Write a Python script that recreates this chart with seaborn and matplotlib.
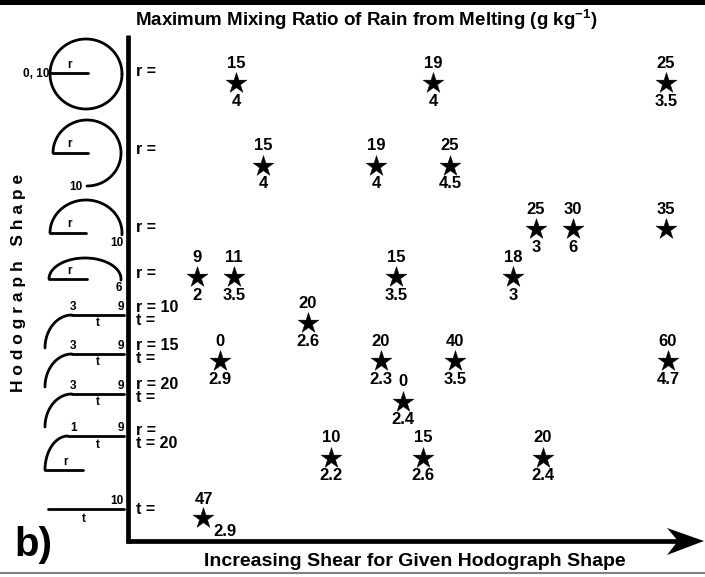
import numpy as np
import pandas as pd
import matplotlib
matplotlib.use("Agg")
import matplotlib.pyplot as plt
from matplotlib.patches import Polygon
import seaborn as sns

sns.set_theme(style="white")
plt.rcParams["font.family"] = ["Liberation Sans", "DejaVu Sans"]
plt.rcParams["mathtext.fontset"] = "custom"
plt.rcParams["mathtext.bf"] = "Liberation Sans:bold"
plt.rcParams["mathtext.rm"] = "Liberation Sans:bold"

# ---- data: one star per simulation ----
# shear position (increasing to the right) and row position of each hodograph family
star_x = [236, 433, 666, 263, 376, 450, 536, 573, 666, 197, 234, 396, 513,
          308, 220, 381, 455, 668, 403, 331, 423, 543, 203]
star_y = [83, 83, 83, 166, 166, 166, 229, 229, 229, 277, 277, 277, 277,
          323, 361, 361, 361, 361, 402, 458, 458, 458, 518]
# hodograph parameter (r or t) written above each star
param = ["15", "19", "25", "15", "19", "25", "25", "30", "35", "9", "11", "15", "18",
         "20", "0", "20", "40", "60", "0", "10", "15", "20", "47"]
# maximum mixing ratio of rain from melting (g/kg) written below each star
mixing = ["4", "4", "3.5", "4", "4", "4.5", "3", "6", "", "2", "3.5", "3.5", "3",
          "2.6", "2.9", "2.3", "3.5", "4.7", "2.4", "2.2", "2.6", "2.4", "2.9"]

# row captions at the axis
row_text = ["r =", "r =", "r =", "r =", "r = 10\nt =", "r = 15\nt =", "r = 20\nt =",
            "r =\nt = 20", "t ="]
row_text_y = [71, 150, 228, 273, 314, 352, 391, 437, 509]

df = pd.DataFrame({"shear": star_x, "row": star_y, "param": param, "mixing": mixing})

W, H = 705, 577
fig = plt.figure(figsize=(W / 100, H / 100), dpi=100)
ax = fig.add_axes([0, 0, 1, 1])
ax.set_xlim(0, W)
ax.set_ylim(H, 0)
ax.axis("off")

# frame lines
ax.add_patch(plt.Rectangle((0, 0), W, 5, color="black", lw=0))
ax.plot([0, W], [573, 573], color="#808080", lw=1.5, solid_capstyle="butt")

# axes with arrow
ax.plot([128, 128], [35, 543], color="black", lw=3.4, solid_capstyle="butt")
ax.plot([126, 688], [541, 541], color="black", lw=3.4, solid_capstyle="butt")
ax.add_patch(Polygon([[704, 541], [667, 528], [678, 541], [667, 555]],
                     closed=True, color="black", lw=0))

# stars
sns.scatterplot(data=df, x="shear", y="row", marker="*", s=250, color="black",
                edgecolor="black", linewidth=0.3, ax=ax, legend=False, zorder=3)

bold = dict(fontweight="bold", color="black")
fs_num = 12
for i, r in df.iterrows():
    if i == len(df) - 1:
        ax.text(r.shear + 1, r.row - 18, r.param, ha="center", va="center", fontsize=fs_num, **bold)
        ax.text(r.shear + 22, r.row + 13, r.mixing, ha="center", va="center", fontsize=fs_num, **bold)
        continue
    ax.text(r.shear, r.row - 20, r.param, ha="center", va="center", fontsize=fs_num, **bold)
    if r.mixing:
        ax.text(r.shear, r.row + 18, r.mixing, ha="center", va="center", fontsize=fs_num, **bold)

for t, y in zip(row_text, row_text_y):
    ax.text(136, y, t, ha="left", va="center", fontsize=11.5, linespacing=0.85, **bold)

# titles
ax.text(366, 20, r"Maximum Mixing Ratio of Rain from Melting (g kg$^{\mathbf{-1}}$)",
        ha="center", va="center", fontsize=13.5, **bold)
ax.text(415, 561, "Increasing Shear for Given Hodograph Shape",
        ha="center", va="center", fontsize=14, **bold)
ax.text(19, 283, "H o d o g r a p h   S h a p e", rotation=90,
        ha="center", va="center", fontsize=12.5, **bold)
ax.text(14, 545, "b)", ha="left", va="center", fontsize=29, **bold)

# ---- hodograph sketches ----
lw = 2.0
def arc(cx, cy, rx, ry, a0, a1, n=120):
    th = np.radians(np.linspace(a0, a1, n))
    ax.plot(cx + rx * np.cos(th), cy - ry * np.sin(th), color="black", lw=lw)

small = dict(fontsize=8.5, ha="center", va="center", **bold)

# full circle
arc(86, 74, 36, 35, 0, 360)
ax.plot([50, 88], [73, 73], color="black", lw=lw)
ax.text(70, 65, "r", **small)
ax.text(36, 74, "0, 10", **small)

# three-quarter circle
arc(87, 153, 34, 33, 180, -90)
ax.plot([53, 88], [153, 153], color="black", lw=lw)
ax.text(70, 144, "r", **small)
ax.text(76, 187, "10", **small)

# half circle
arc(86, 233, 36, 33, 180, -3)
ax.plot([50, 86], [233, 233], color="black", lw=lw)
ax.text(70, 224, "r", **small)
ax.text(117, 243, "10", **small)

# flattened half circle
arc(85, 279, 36, 21, 180, -3)
ax.plot([49, 87], [279, 279], color="black", lw=lw)
ax.text(70, 271, "r", **small)
ax.text(119, 288, "6", **small)

# quarter turn followed by straight segment
for ly in [315, 354, 394]:
    arc(72, ly + 33, 27, 33, 180, 90)
    ax.plot([72, 124], [ly, ly], color="black", lw=lw)
    ax.text(73, ly - 8, "3", **small)
    ax.text(121, ly - 8, "9", **small)
    ax.text(98, ly + 8, "t", **small)

# radius, short turn, straight segment
arc(68, 470, 23, 34, 180, 90)
ax.plot([68, 124], [436, 436], color="black", lw=lw)
ax.plot([45, 83], [470, 470], color="black", lw=lw)
ax.text(74, 428, "1", **small)
ax.text(121, 428, "9", **small)
ax.text(98, 445, "t", **small)
ax.text(66, 462, "r", **small)

# straight line
ax.plot([48, 124], [509, 509], color="black", lw=lw)
ax.text(117, 501, "10", **small)
ax.text(84, 519, "t", **small)

fig.savefig("out.png", dpi=100)
